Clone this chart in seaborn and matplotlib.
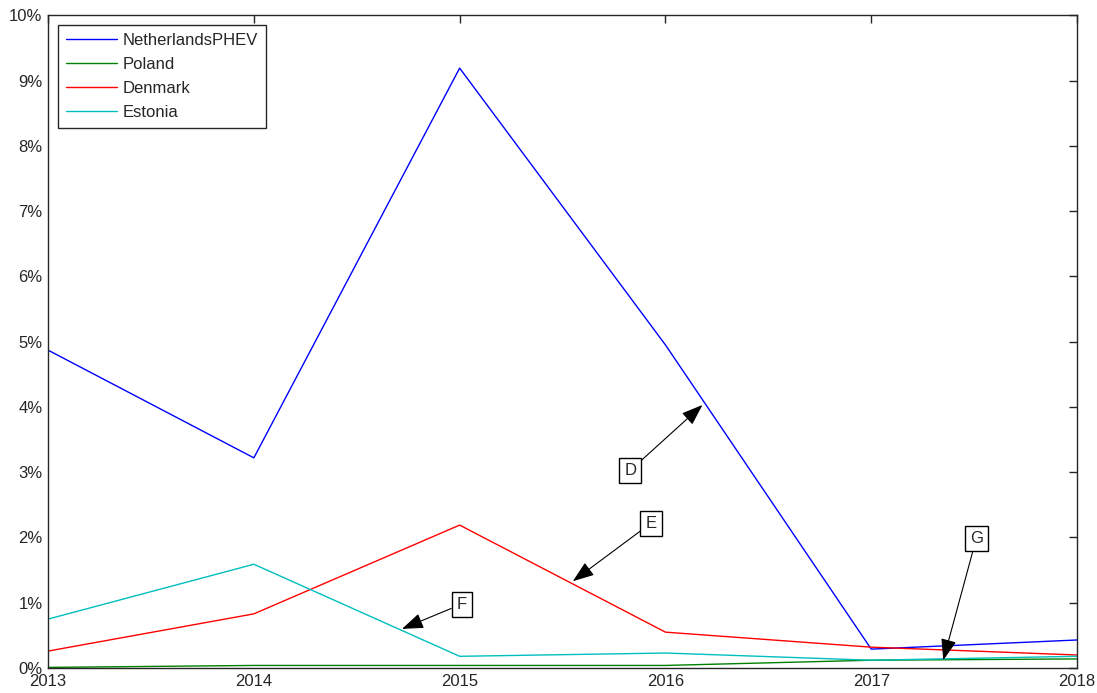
import pandas as pd
import numpy as np
import matplotlib
matplotlib.use('Agg')
import matplotlib.pyplot as plt
import seaborn as sns

# Данные (доля, %)
years = [2013, 2014, 2015, 2016, 2017, 2018]
netherlands_phev = [4.87, 3.22, 9.19, 4.95, 0.29, 0.43]
poland = [0.01, 0.04, 0.04, 0.04, 0.12, 0.14]
denmark = [0.26, 0.83, 2.19, 0.55, 0.32, 0.20]
estonia = [0.75, 1.59, 0.18, 0.23, 0.12, 0.18]

series_names = ['NetherlandsPHEV', 'Poland', 'Denmark', 'Estonia']
colors = ['#0000ff', '#008000', '#ff0000', '#00bfbf']

# Подписи-стрелки: (текст, точка, позиция текста)
notes = [
    ('D', (2016.18, 4.03), (2015.83, 3.03)),
    ('E', (2015.55, 1.33), (2015.93, 2.22)),
    ('F', (2014.72, 0.60), (2015.01, 0.98)),
    ('G', (2017.35, 0.12), (2017.51, 1.98)),
]

df = pd.DataFrame({
    'year': years * 4,
    'value': netherlands_phev + poland + denmark + estonia,
    'series': [n for n in series_names for _ in years],
})

sns.set_theme(style='white')
plt.rcParams['font.family'] = ['Liberation Sans', 'DejaVu Sans']

fig = plt.figure(figsize=(10.97, 6.93), dpi=100)
ax = fig.add_axes([0.0438, 0.036, 0.938, 0.942])

sns.lineplot(data=df, x='year', y='value', hue='series', hue_order=series_names,
             palette=colors, linewidth=1.0, ax=ax)

ax.set_xlim(2013, 2018)
ax.set_ylim(0, 10)
ax.set_xticks(years)
ax.set_xticklabels([str(y) for y in years])
ax.set_yticks(range(0, 11))
ax.set_yticklabels([f'{v}%' for v in range(0, 11)])
ax.set_xlabel('')
ax.set_ylabel('')
ax.tick_params(direction='in', length=6, width=1, colors='#262626',
               top=True, right=True, labelsize=12, pad=4)
ax.tick_params(axis='x', pad=4)
for sp in ax.spines.values():
    sp.set_color('#262626')
    sp.set_linewidth(1)

for label, xy, xytext in notes:
    ax.annotate(label, xy=xy, xytext=xytext, fontsize=12, ha='center', va='center',
                bbox=dict(boxstyle='square,pad=0.3', fc='white', ec='black', lw=1),
                arrowprops=dict(arrowstyle='-|>,head_length=1.1,head_width=0.4',
                                color='black', lw=0.8, shrinkA=0, shrinkB=0))

leg = ax.legend(loc='upper left', bbox_to_anchor=(0.0097, 0.985), borderaxespad=0,
                fontsize=12, frameon=True, fancybox=False, edgecolor='#262626',
                framealpha=1, handlelength=3.1, handletextpad=0.35,
                borderpad=0.45, labelspacing=0.55)
leg.get_frame().set_linewidth(1)

fig.savefig('out.png', dpi=100)
